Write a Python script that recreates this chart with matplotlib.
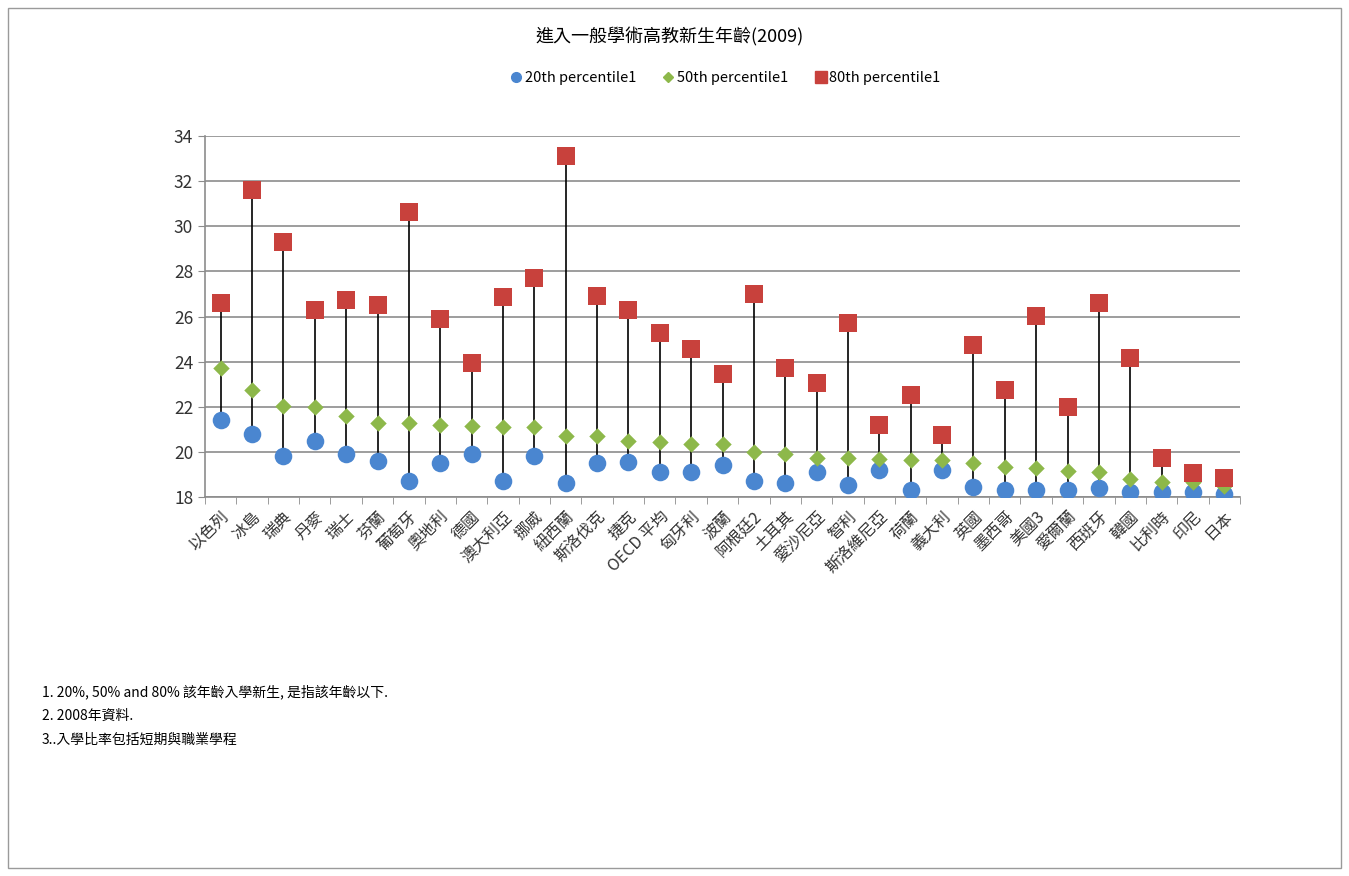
import numpy as np
import matplotlib.pyplot as plt
from matplotlib.patches import Rectangle
from matplotlib.lines import Line2D

plt.rcParams['font.family'] = ['Noto Sans CJK TC', 'DejaVu Sans']

countries = ['以色列', '冰島', '瑞典', '丹麥', '瑞士', '芬蘭', '葡萄牙', '奧地利', '德國',
             '澳大利亞', '挪威', '紐西蘭', '斯洛伐克', '捷克', 'OECD 平均', '匈牙利', '波蘭',
             '阿根廷2', '土耳其', '愛沙尼亞', '智利', '斯洛維尼亞', '荷蘭', '義大利', '英國',
             '墨西哥', '美國3', '愛爾蘭', '西班牙', '韓國', '比利時', '印尼', '日本']

p20 = [21.4, 20.8, 19.8, 20.5, 19.9, 19.6, 18.7, 19.5, 19.9, 18.7, 19.8, 18.6, 19.5,
       19.55, 19.12, 19.12, 19.42, 18.7, 18.6, 19.12, 18.53, 19.2, 18.3, 19.2, 18.43,
       18.3, 18.3, 18.3, 18.38, 18.24, 18.2, 18.2, 18.13]
p50 = [23.7, 22.75, 22.05, 22.0, 21.6, 21.3, 21.3, 21.2, 21.15, 21.1, 21.1, 20.7, 20.7,
       20.5, 20.42, 20.33, 20.33, 20.0, 19.89, 19.74, 19.74, 19.68, 19.64, 19.64, 19.52,
       19.34, 19.3, 19.17, 19.12, 18.8, 18.68, 18.65, 18.5]
p80 = [26.6, 31.6, 29.3, 26.3, 26.75, 26.5, 30.65, 25.9, 23.95, 26.85, 27.7, 33.1, 26.9,
       26.3, 25.27, 24.57, 23.44, 26.98, 23.7, 23.07, 25.73, 21.19, 22.52, 20.75, 24.74,
       22.74, 26.02, 22.0, 26.6, 24.17, 19.74, 19.05, 18.83]

blue = '#4A86D0'
green = '#8DB84A'
red = '#C8413C'
grid_c = '#8C8C8C'

fig = plt.figure(figsize=(13.49, 8.76), dpi=100)
ax = fig.add_axes([205/1349, 1-497/876, 1035/1349, 361/876])

x = np.arange(len(countries))
ax.vlines(x, p20, p80, color='black', linewidth=1.2, zorder=2)
ax.scatter(x, p20, s=160, marker='o', color=blue, zorder=3, linewidths=0)
ax.scatter(x, p50, s=70, marker='D', color=green, zorder=4, linewidths=0)
ax.scatter(x, p80, s=170, marker='s', color=red, zorder=4, linewidths=0)

ax.set_xlim(-0.5, len(countries) - 0.5)
ax.set_ylim(18, 34)
ax.set_yticks(np.arange(18, 35, 2))
ax.yaxis.grid(True, color=grid_c, linewidth=1.2)
ax.set_axisbelow(True)
for s in ['top', 'right']:
    ax.spines[s].set_visible(False)
ax.spines['left'].set_color(grid_c)
ax.spines['bottom'].set_color(grid_c)
ax.spines['left'].set_linewidth(1.2)
ax.spines['bottom'].set_linewidth(1.2)

ax.set_xticks(x)
ax.set_xticklabels(countries, rotation=45, ha='right', rotation_mode='anchor', fontsize=11.5, color='#333333')
ax.set_xticks(np.arange(-0.5, len(countries), 1), minor=True)
ax.tick_params(axis='x', which='major', length=0, pad=8)
ax.tick_params(axis='x', which='minor', length=5, color=grid_c)
ax.tick_params(axis='y', length=5, color=grid_c, labelsize=12.5, labelcolor='#333333')

fig.text(670/1349, 1-37/876, '進入一般學術高教新生年齡(2009)', ha='center', va='center', fontsize=13)

handles = [Line2D([], [], marker='o', color=blue, linestyle='none', markersize=7),
           Line2D([], [], marker='D', color=green, linestyle='none', markersize=5),
           Line2D([], [], marker='s', color=red, linestyle='none', markersize=8)]
fig.legend(handles, ['20th percentile1', '50th percentile1', '80th percentile1'],
           loc='center', bbox_to_anchor=(724/1349, 1-78/876), ncol=3, frameon=False,
           fontsize=10.5, handletextpad=0.0, columnspacing=1.6, handlelength=1.2)

fig.text(42/1349, 1-692/876, '1. 20%, 50% and 80% 該年齡入學新生, 是指該年齡以下.', ha='left', va='center', fontsize=10)
fig.text(42/1349, 1-716/876, '2. 2008年資料.', ha='left', va='center', fontsize=10)
fig.text(42/1349, 1-740/876, '3..入學比率包括短期與職業學程', ha='left', va='center', fontsize=10)

fig.patches.append(Rectangle((8/1349, 8/876), 1333/1349, 860/876, transform=fig.transFigure,
                             fill=False, edgecolor='#9A9A9A', linewidth=1))

fig.savefig('out.png', dpi=100)
